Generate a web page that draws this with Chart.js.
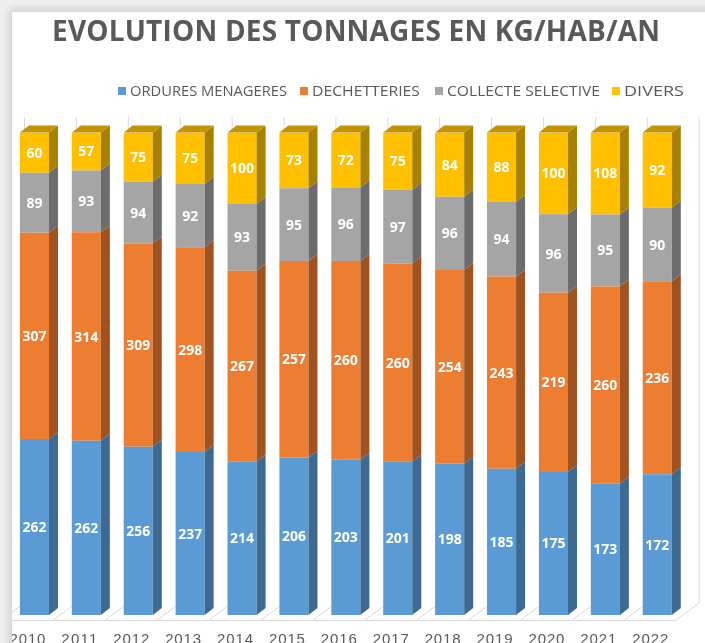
<!DOCTYPE html>
<html>
<head>
<meta charset="utf-8">
<script src="https://cdn.jsdelivr.net/npm/chart.js@4.4.0/dist/chart.umd.min.js"></script>
<style>
  html, body { margin: 0; padding: 0; }
  body { width: 705px; height: 643px; overflow: hidden; position: relative; background: #efefef; }
  #frame {
    position: absolute; left: 11px; top: 11px; width: 720px; height: 660px;
    background: #fff; border: 1px solid #d9d9d9; box-shadow: -2px -2px 7px rgba(0,0,0,0.13);
  }
  #myChart { position: absolute; left: 0; top: 0; }
</style>
</head>
<body>
<div id="frame"></div>
<canvas id="myChart" width="705" height="643"></canvas>
<script>
// valeurs (kg/hab/an)
const years = ["2010", "2011", "2012", "2013", "2014", "2015", "2016", "2017", "2018", "2019", "2020", "2021", "2022"];
const ordures = [262, 262, 256, 237, 214, 206, 203, 201, 198, 185, 175, 173, 172];
const dechetteries = [307, 314, 309, 298, 267, 257, 260, 260, 254, 243, 219, 260, 236];
const collecte = [89, 93, 94, 92, 93, 95, 96, 97, 96, 94, 96, 95, 90];
const divers = [60, 57, 75, 75, 100, 73, 72, 75, 84, 88, 100, 108, 92];

const seriesNames = ["ORDURES MENAGERES", "DECHETTERIES", "COLLECTE SELECTIVE", "DIVERS"];
const frontColors = ["#5B9BD5", "#ED7D31", "#A5A5A5", "#FFC000"];
const sideColors = ["#3C6A92", "#A0521F", "#6C6C6C", "#A88100"];
const topColor = "#C49400";

const allSeries = [ordures, dechetteries, collecte, divers];
const totals = years.map((y, i) => allSeries.reduce((s, arr) => s + arr[i], 0));
// empilement 100%
const toPct = arr => arr.map((v, i) => v / totals[i] * 100);

const DX = 9, DY = 7;       // profondeur des barres
const WX = 16;              // profondeur du mur du fond

function fitText(ctx, text, x, y, width) {
    ctx.letterSpacing = "0px";
    const w = ctx.measureText(text).width;
    const ls = (width - w) / Math.max(text.length - 1, 1);
    ctx.letterSpacing = ls + "px";
    ctx.fillText(text, x, y);
    ctx.letterSpacing = "0px";
}

// texte etire/compresse horizontalement (police etroite type Calibri)
function squeezeText(ctx, text, x, y, width) {
    const w = ctx.measureText(text).width;
    ctx.save();
    ctx.translate(x, y);
    ctx.scale(width / w, 1);
    ctx.fillText(text, 0, 0);
    ctx.restore();
}

const threeD = {
    id: "threeD",
    beforeDatasetsDraw(chart) {
        const ctx = chart.ctx;
        const area = chart.chartArea;
        const catW = (area.right - area.left) / years.length;
        const floorY = area.bottom + 5;
        ctx.save();
        ctx.beginPath();
        ctx.rect(12, 0, 705, 643);
        ctx.clip();
        ctx.strokeStyle = "#d9d9d9";
        ctx.lineWidth = 1;
        for (let i = 0; i <= years.length; i++) {
            const b = area.left + i * catW;
            ctx.beginPath();
            ctx.moveTo(b + WX, 117);
            ctx.lineTo(b + WX, floorY - 17);
            ctx.stroke();
            ctx.beginPath();
            ctx.moveTo(b - 7, floorY);
            ctx.lineTo(b + WX, floorY - 17);
            ctx.stroke();
        }
        ctx.beginPath();
        ctx.moveTo(0, floorY + 0.5);
        ctx.lineTo(area.right - 7, floorY + 0.5);
        ctx.stroke();
        ctx.restore();
    },
    afterDatasetsDraw(chart) {
        const ctx = chart.ctx;
        const n = chart.data.datasets.length;
        ctx.save();
        for (let d = 0; d < n; d++) {
            const meta = chart.getDatasetMeta(d);
            meta.data.forEach((bar, i) => {
                const p = bar.getProps(["x", "y", "base", "width"], true);
                const x0 = p.x - p.width / 2, x1 = p.x + p.width / 2;
                ctx.fillStyle = sideColors[d];
                ctx.beginPath();
                ctx.moveTo(x1, p.y);
                ctx.lineTo(x1 + DX, p.y - DY);
                ctx.lineTo(x1 + DX, p.base - DY);
                ctx.lineTo(x1, p.base);
                ctx.closePath();
                ctx.fill();
                if (d === n - 1) {
                    ctx.fillStyle = topColor;
                    ctx.beginPath();
                    ctx.moveTo(x0, p.y);
                    ctx.lineTo(x1, p.y);
                    ctx.lineTo(x1 + DX, p.y - DY);
                    ctx.lineTo(x0 + DX, p.y - DY);
                    ctx.closePath();
                    ctx.fill();
                }
            });
        }
        // etiquettes de valeurs
        ctx.fillStyle = "#ffffff";
        ctx.font = "bold 14px 'Open Sans', sans-serif";
        ctx.textAlign = "center";
        ctx.textBaseline = "middle";
        for (let d = 0; d < n; d++) {
            const meta = chart.getDatasetMeta(d);
            meta.data.forEach((bar, i) => {
                const p = bar.getProps(["x", "y", "base"], true);
                ctx.fillText(String(allSeries[d][i]), p.x, (p.y + p.base) / 2 + 1);
            });
        }
        ctx.restore();
    },
    afterDraw(chart) {
        const ctx = chart.ctx;
        ctx.save();
        // titre
        ctx.fillStyle = "#595959";
        ctx.textAlign = "left";
        ctx.textBaseline = "alphabetic";
        ctx.font = "bold 28px 'Open Sans', sans-serif";
        fitText(ctx, "EVOLUTION DES TONNAGES EN KG/HAB/AN", 52, 41, 608);
        // legende
        const legX = [118, 300, 435, 612];
        const legW = [157, 108, 153, 60];
        ctx.font = "15px 'Open Sans', sans-serif";
        for (let d = 0; d < seriesNames.length; d++) {
            ctx.fillStyle = frontColors[d];
            ctx.fillRect(legX[d], 87, 8, 8);
            ctx.fillStyle = "#595959";
            squeezeText(ctx, seriesNames[d], legX[d] + 12, 96, legW[d]);
        }
        // axe des x
        ctx.beginPath();
        ctx.rect(12, 0, 705, 643);
        ctx.clip();
        const xs = chart.scales.x;
        ctx.font = "15px 'Liberation Sans', sans-serif";
        ctx.fillStyle = "#595959";
        years.forEach((y, i) => {
            const cx = xs.getPixelForValue(i) - 7;
            fitText(ctx, y, cx - 18, 644, 36);
        });
        ctx.restore();
    }
};

new Chart("myChart", {
    type: "bar",
    data: {
        labels: years,
        datasets: allSeries.map((arr, d) => ({
            label: seriesNames[d],
            data: toPct(arr),
            backgroundColor: frontColors[d],
            borderWidth: 0,
            barPercentage: 0.56,
            categoryPercentage: 1
        }))
    },
    options: {
        responsive: false,
        animation: false,
        layout: {
            padding: { left: 8.5, right: 21.8, top: 132.5, bottom: 28 }
        },
        plugins: {
            legend: { display: false },
            title: { display: false },
            tooltip: { enabled: false }
        },
        scales: {
            x: { stacked: true, display: false },
            y: { stacked: true, display: false, min: 0, max: 100 }
        }
    },
    plugins: [threeD]
});
</script>
</body>
</html>
